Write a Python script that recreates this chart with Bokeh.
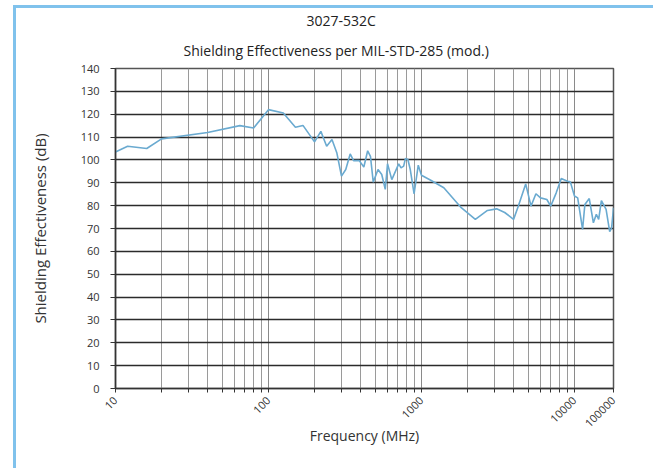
import math
from bokeh.plotting import figure
from bokeh.models import FixedTicker, Title, Range1d
from bokeh.embed import file_html
from bokeh.resources import INLINE

# ---- data ----
freq_mhz = [10, 12, 16, 20, 40, 65, 80, 100, 125, 150, 168, 200, 220, 240, 260, 280,
            300, 320, 342, 360, 392, 420, 445, 464, 484, 520, 550, 580, 600, 640,
            710, 735, 765, 785, 815, 845, 895, 953, 1000, 1150, 1400, 1820, 2250,
            2700, 3100, 3500, 4000, 4300, 4800, 5200, 5600, 6000, 6600, 7000, 7600,
            8200, 9000, 9400, 10000, 10500, 11300, 11700, 12500, 13300, 13900,
            14400, 15000, 16100, 17000, 17500, 18000]
se_db = [103.5, 106, 105, 109.2, 112, 115, 114, 122, 120.5, 114.3, 115.1, 107.9, 112.5,
         106, 108.9, 103, 92.9, 95.8, 102.6, 99.7, 99.7, 96.9, 104, 101.6, 90.3, 95.8,
         93.6, 87.1, 98.3, 91.4, 98.3, 96.5, 97.3, 100.6, 100.2, 95.8, 85.2, 97.7, 93.3,
         91.1, 87.8, 79.1, 74, 77.9, 78.6, 77, 74, 79.8, 89.5, 79.8, 85.2, 83.4, 82.7,
         79.8, 85.6, 91.9, 90.7, 90.4, 84.2, 83.4, 69.6, 80.5, 83.1, 72.5, 76.2, 74,
         82.2, 78.4, 68.6, 70.3, 79.1]

x_major_ticks = [10, 100, 1000, 10000, 18000]
x_tick_labels = {10: "10", 100: "100", 1000: "1000", 10000: "10000", 18000: "100000"}
x_minor_ticks = [m * d for d in (10, 100, 1000) for m in range(2, 10)]
y_ticks = list(range(0, 141, 10))

title_line1 = "3027-532C"
title_line2 = "Shielding Effectiveness per MIL-STD-285 (mod.)"
x_title = "Frequency (MHz)"
y_title = "Shielding Effectiveness (dB)"

FONT = "Open Sans"
TXT = "#333333"

p = figure(width=640, height=463, x_axis_type="log",
           x_range=Range1d(10, 18000), y_range=Range1d(0, 140),
           output_backend="svg", toolbar_location=None,
           min_border_left=99, min_border_right=43, min_border_top=59, min_border_bottom=83)
p.styles = {"margin-left": "13px", "margin-top": "5px",
            "border-left": "3px solid #80c2ec", "border-top": "3px solid #80c2ec"}
p.background_fill_color = "white"
p.border_fill_color = "white"
p.outline_line_color = "#555555"
p.outline_line_width = 1.5

# titles (second line nearest the frame, added first)
p.add_layout(Title(text=title_line2, align="left", offset=68, standoff=18,
                   text_font=FONT, text_font_size="14px", text_font_style="normal",
                   text_color="#222222"), "above")
p.add_layout(Title(text=title_line1, align="left", offset=191, standoff=0,
                   text_font=FONT, text_font_size="14px", text_font_style="normal",
                   text_color="#222222"), "above")

# x axis
xa = p.xaxis[0]
xa.ticker = FixedTicker(ticks=x_major_ticks, minor_ticks=x_minor_ticks)
xa.major_label_overrides = x_tick_labels
xa.major_label_orientation = math.pi / 4
xa.major_label_text_font = FONT
xa.major_label_text_font_size = "11px"
xa.major_label_text_color = TXT
xa.major_tick_in = 0
xa.major_tick_out = 4
xa.minor_tick_in = 0
xa.minor_tick_out = 4
xa.major_tick_line_color = "#333333"
xa.minor_tick_line_color = "#333333"
xa.axis_line_color = "#333333"
xa.axis_line_width = 1.5
xa.axis_label = x_title
xa.axis_label_text_font = FONT
xa.axis_label_text_font_size = "14px"
xa.axis_label_text_font_style = "normal"
xa.axis_label_text_color = TXT
xa.axis_label_standoff = -8
xa.major_label_standoff = 6

# y axis
ya = p.yaxis[0]
ya.ticker = FixedTicker(ticks=y_ticks)
ya.major_label_text_font = FONT
ya.major_label_text_font_size = "11px"
ya.major_label_text_color = TXT
ya.major_tick_in = 0
ya.major_tick_out = 5
ya.minor_tick_line_color = None
ya.major_tick_line_color = "#333333"
ya.axis_line_color = "#333333"
ya.axis_line_width = 1.5
ya.axis_label = y_title
ya.axis_label_text_font = FONT
ya.axis_label_text_font_size = "15px"
ya.axis_label_text_font_style = "normal"
ya.axis_label_text_color = TXT
ya.axis_label_standoff = 28
ya.major_label_standoff = 11

# grids
p.xgrid.grid_line_color = "#8a8a8a"
p.xgrid.grid_line_width = 1
p.xgrid.minor_grid_line_color = "#9a9a9a"
p.xgrid.minor_grid_line_width = 1
p.ygrid.grid_line_color = "#2b2b2b"
p.ygrid.grid_line_width = 1.3

p.line(freq_mhz, se_db, line_color="#6aaad0", line_width=1.6)

open("out.html", "w").write(file_html(p, INLINE))
